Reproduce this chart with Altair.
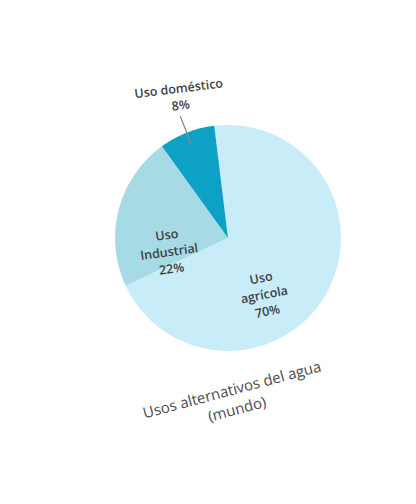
import math
import altair as alt
import pandas as pd

# data
categories = ["Uso agrícola", "Uso industrial", "Uso doméstico"]
values = [70, 22, 8]
labels = ["Uso\nagrícola\n70%", "Uso\nIndustrial\n22%", "Uso doméstico\n8%"]
slice_order = [1, 2, 3]
colors = ["#c9edf8", "#a6dae4", "#0ea1c6"]
title_text = "Usos alternativos del agua\n(mundo)"

df = pd.DataFrame({"category": categories, "value": values,
                   "label": labels, "order": slice_order})

off = math.radians(-7)
theta_scale = alt.Scale(domain=[0, 100], range=[off, off + 2 * math.pi])

base = alt.Chart(df).transform_window(
    cum="sum(value)", sort=[alt.SortField("order")], frame=[None, 0]
).transform_calculate(
    mid="datum.cum - datum.value / 2",
    mid2="datum.cum - datum.value / 2 + 0.001",
)

pie = base.mark_arc(outerRadius=113).encode(
    theta=alt.Theta("value:Q", stack=True, scale=theta_scale),
    color=alt.Color("category:N", scale=alt.Scale(domain=categories, range=colors), legend=None),
    order=alt.Order("order:Q"),
)

leader = base.transform_filter(alt.datum.category == categories[2]).mark_arc(
    innerRadius=100, outerRadius=131, fillOpacity=0, stroke="#8a8a8a", strokeWidth=1
).encode(
    theta=alt.Theta("mid:Q", scale=theta_scale),
    theta2="mid2:Q",
)

label_style = dict(font="Open Sans", fontWeight=600, fontSize=12.5, color="#3f3f3f",
                   lineBreak="\n", lineHeight=17, align="center", baseline="middle")

def label_layer(cat, radius, dx, dy, angle):
    return base.transform_filter(alt.datum.category == cat).mark_text(
        radius=radius, dx=dx, dy=dy, **label_style
    ).encode(
        theta=alt.Theta("mid:Q", scale=theta_scale),
        angle=alt.value(angle),
        text="label:N",
    )

lab_agri = label_layer(categories[0], 48, -12, 15, 349)
lab_ind = label_layer(categories[1], 63, -2, 13, 352)
lab_dom = label_layer(categories[2], 156, 8, -3, 353)

title = alt.Chart(pd.DataFrame({"t": [title_text]})).mark_text(
    font="Open Sans", fontSize=15, color="#4a4a4a", angle=345,
    lineBreak="\n", lineHeight=20, align="center", baseline="middle"
).encode(x=alt.value(184), y=alt.value(382), text="t:N")

chart = alt.layer(pie, leader, lab_agri, lab_ind, lab_dom, title).properties(
    width=360, height=460, autosize="none",
    padding={"left": 40, "top": 0, "right": 0, "bottom": 0},
    background="white",
).configure_view(stroke=None)

chart.save("out.html", embed_options={"renderer": "svg", "actions": False})
